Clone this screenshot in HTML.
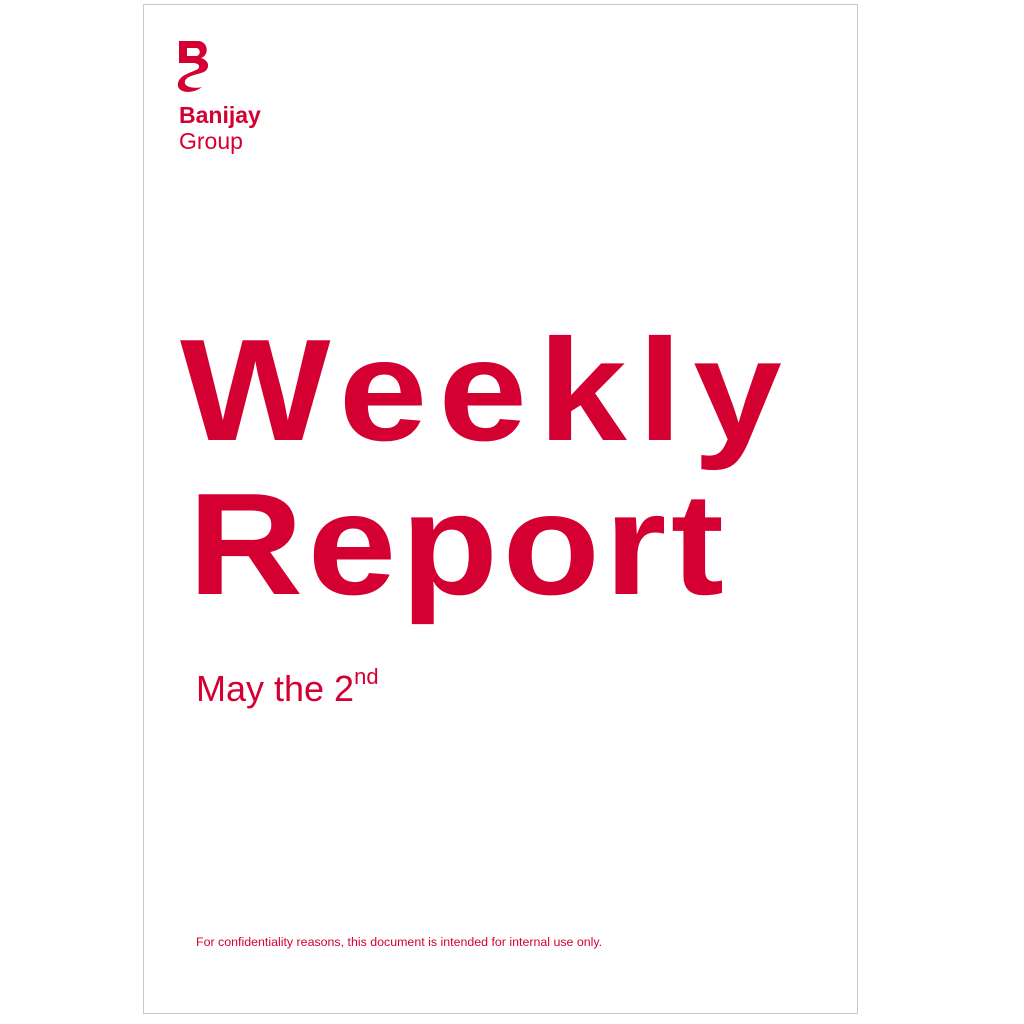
<!DOCTYPE html>
<html><head><meta charset="utf-8"><style>
body{margin:0;width:1024px;height:1024px;background:#fff;position:relative;overflow:hidden;font-family:"Liberation Sans",sans-serif;color:#d50032}
#page{position:absolute;left:143px;top:4px;width:715px;height:1010px;border:1px solid #c8c8c8;box-sizing:border-box}
.t{position:absolute;white-space:nowrap;font-weight:bold;line-height:1;transform:scaleX(1.1);transform-origin:0 0}
</style></head><body>
<div id="page"></div>
<svg style="position:absolute;left:174px;top:40px" width="42" height="56" viewBox="0 0 42 56">
<path d="M5 1 H24 C34 1 36 15 27 18 C37 21 36 31 27 33 C21 35 13 36 11 41 C9 47 20 49 28 47 C18 55 2 53 4 43 C6 35 16 33 22 30 C27 28 26 23 19 23 H5 Z M13 8 V16 H22 C27 16 27 8 22 8 Z" fill="#d50032" fill-rule="evenodd"/>
</svg>
<div style="position:absolute;left:179px;top:104px;font-size:23px;font-weight:bold;line-height:1">Banijay</div>
<div style="position:absolute;left:179px;top:130px;font-size:23px;line-height:1">Group</div>
<div class="t" style="left:180px;top:318px;font-size:145px;letter-spacing:10px">Weekly</div>
<div class="t" style="left:188px;top:472px;font-size:145px;letter-spacing:4px">Report</div>
<div style="position:absolute;left:196px;top:670px;font-size:36px;line-height:1;white-space:nowrap">May the 2<sup style="font-size:22px;position:relative;top:-4px">nd</sup></div>
<div style="position:absolute;left:196px;top:935px;font-size:12.4px;white-space:nowrap">For confidentiality reasons, this document is intended for internal use only.</div>
</body></html>
